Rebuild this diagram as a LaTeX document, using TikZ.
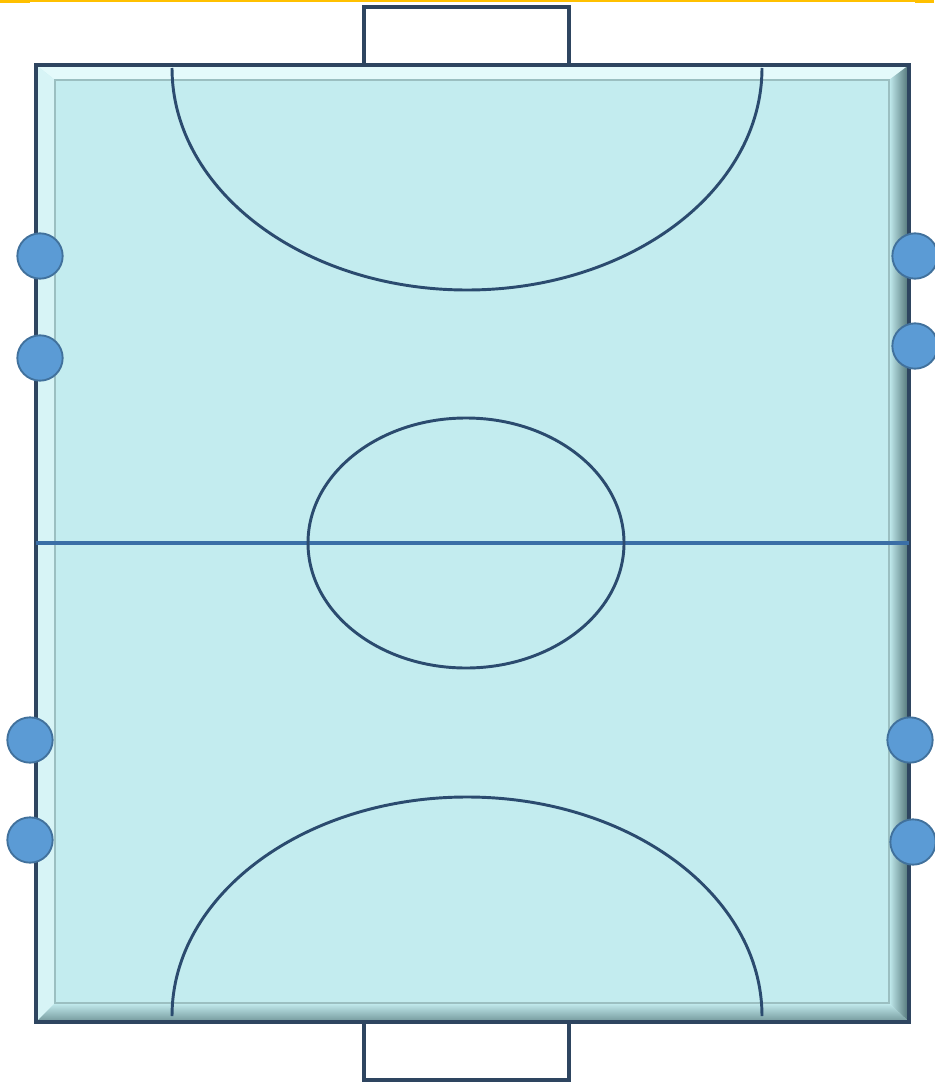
\documentclass[tikz,border=0pt]{standalone}
\usepackage{tikz}
\usetikzlibrary{positioning}
\definecolor{courtfill}{HTML}{C3ECEF}
\definecolor{courtedge}{HTML}{2E4560}
\definecolor{arcblue}{HTML}{2B4B6F}
\definecolor{midblue}{HTML}{3A6EA6}
\definecolor{dotblue}{HTML}{5B9BD5}
\definecolor{dotedge}{HTML}{41719C}
\definecolor{bevlight}{HTML}{E4FAFB}
\definecolor{bevdark}{HTML}{4F7174}
\definecolor{innerline}{HTML}{9BBFC1}
\definecolor{topgold}{HTML}{FFC000}

\begin{document}
\begin{tikzpicture}[x=0.75pt,y=-0.75pt,
  goalbox/.style={fill=white,draw=courtedge,line width=2.4pt},
  courtline/.style={draw=arcblue,line width=2.2pt},
  player/.style={circle,fill=dotblue,draw=dotedge,line width=1.4pt,minimum size=34pt,inner sep=0pt}]
\useasboundingbox (0,0) rectangle (934,1087);
\draw[topgold,line width=1.2pt] (0,0.8) -- (934,0.8);
\draw[topgold,line width=2.2pt] (0,1.2) -- (30,1.2);
\draw[topgold,line width=2.2pt] (915,1.2) -- (934,1.2);
\draw[goalbox] (364,7) rectangle (569,65);
\draw[goalbox] (364,1022) rectangle (569,1080);
\fill[courtfill] (36,65) rectangle (909,1022);
\fill[bevlight] (36,65) -- (909,65) -- (889,80) -- (55,80) -- cycle;
\fill[bevlight!60!courtfill] (36,65) -- (55,80) -- (55,1003) -- (36,1022) -- cycle;
\shade[left color=courtfill,right color=bevdark] (889,80) -- (909,65) -- (909,1022) -- (889,1003) -- cycle;
\shade[top color=courtfill,bottom color=bevdark!70!courtfill] (55,1003) -- (889,1003) -- (909,1022) -- (36,1022) -- cycle;
\draw[innerline,line width=0.8pt] (55,80) rectangle (889,1003);
\draw[courtedge,line width=3.4pt] (36,65) rectangle (909,1022);
\draw[courtline] (172,68) arc[start angle=180,end angle=0,x radius=295,y radius=222];
\draw[courtline] (172,1016) arc[start angle=180,end angle=360,x radius=295,y radius=219];
\draw[midblue,line width=2.4pt] (36,543) -- (909,543);
\draw[courtline] (466,543) ellipse[x radius=158,y radius=125];
\node[player] (left1) at (40,256) {};
\node[player] (left2) at (40,358) {};
\node[player] (left3) at (30,740) {};
\node[player] (left4) at (30,840) {};
\node[player] (right1) at (915,256) {};
\node[player] (right2) at (915,346) {};
\node[player] (right3) at (910,740) {};
\node[player] (right4) at (913,842) {};
\end{tikzpicture}
\end{document}
